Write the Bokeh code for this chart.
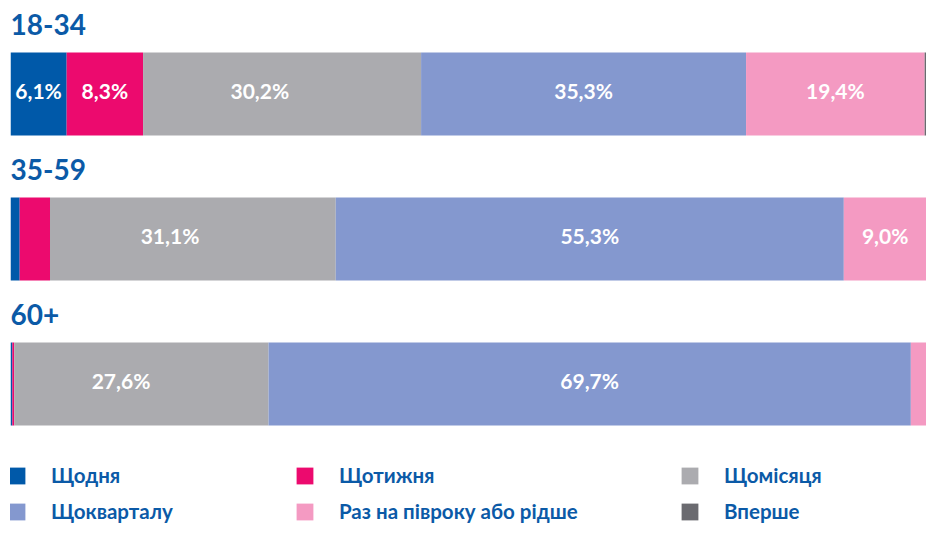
from bokeh.plotting import figure
from bokeh.models import Range1d, ColumnDataSource, Legend, LegendItem
from bokeh.embed import file_html
from bokeh.resources import INLINE
from bokeh.core.properties import value

# ---- data ----
groups = ["18-34", "35-59", "60+"]
categories = ["Щодня", "Щотижня", "Щомісяця", "Щокварталу",
              "Раз на півроку або рідше", "Вперше"]
shchodnia = [6.1, 1.0, 0.2]
shchotyzhnia = [8.3, 3.3, 0.2]
shchomisiatsia = [30.2, 31.1, 27.6]
shchokvartalu = [35.3, 55.3, 69.7]
raz_na_pivroku = [19.4, 9.0, 1.7]
vpershe = [0.2, 0.0, 0.0]
colors = ["#0059A9", "#EC0A6E", "#ABABAF", "#8498CF", "#F49AC2", "#6B6B70"]

series = [shchodnia, shchotyzhnia, shchomisiatsia, shchokvartalu, raz_na_pivroku, vpershe]
keys = ["daily", "weekly", "monthly", "quarterly", "halfyear", "first"]

BLUE = "#0B5AA7"
FONT = "Lato"
W, H = 926, 523

# layout (screen px inside the figure, y downward)
ROW_STEP = 145
BAR_H = 83
bar_y = [93.5 + i * ROW_STEP for i in range(len(groups))]
title_y = [24.0 + i * ROW_STEP for i in range(len(groups))]

# 100% stacked: normalise each row by its total
totals = [sum(s[i] for s in series) for i in range(len(groups))]
data = {"y": bar_y}
for k, s in zip(keys, series):
    data[k] = [v / t * 100 for v, t in zip(s, totals)]
source = ColumnDataSource(data)

p = figure(width=W, height=H, x_range=Range1d(0, 100), y_range=Range1d(H, 0),
           output_backend="svg", toolbar_location=None,
           x_axis_location=None, y_axis_location=None,
           min_border_left=10, min_border_right=0, min_border_top=0, min_border_bottom=0)
p.grid.visible = False
p.outline_line_color = None
p.background_fill_color = "white"

renderers = p.hbar_stack(keys, y="y", height=BAR_H, source=source,
                         color=colors, line_color=None)

# value labels
anchor = {"monthly": 0.42}
lx, ly, lt = [], [], []
for i in range(len(groups)):
    left = 0.0
    for k, s in zip(keys, series):
        w = data[k][i]
        if s[i] >= 5:
            f = anchor.get(k, 0.5)
            lx.append(left + w * f)
            ly.append(bar_y[i] - 4)
            lt.append(f"{s[i]:.1f}".replace(".", ",") + "%")
        left += w
p.text(x=lx, y=ly, text=lt, text_color="white", text_font=value(FONT),
       text_font_style="bold", text_font_size="21px",
       text_align="center", text_baseline="middle")

# group titles
p.text(x=[0] * len(groups), y=title_y, text=groups, text_color=BLUE,
       text_font=value(FONT), text_font_style="bold", text_font_size="28px",
       text_align="left", text_baseline="middle")

# legends: three columns of two items
col_x = [-4, 284, 669]
for c in range(3):
    items = [LegendItem(label=categories[j], renderers=[renderers[j]])
             for j in (c, c + 3)]
    leg = Legend(items=items, location=(col_x[c], 0), orientation="vertical",
                 glyph_width=21, glyph_height=21, label_standoff=24,
                 spacing=12, padding=0, margin=0,
                 border_line_color=None, background_fill_alpha=0,
                 label_text_font=FONT, label_text_font_size="20.5px",
                 label_text_font_style="bold", label_text_color=BLUE)
    p.add_layout(leg)

open("out.html", "w").write(file_html(p, INLINE))
